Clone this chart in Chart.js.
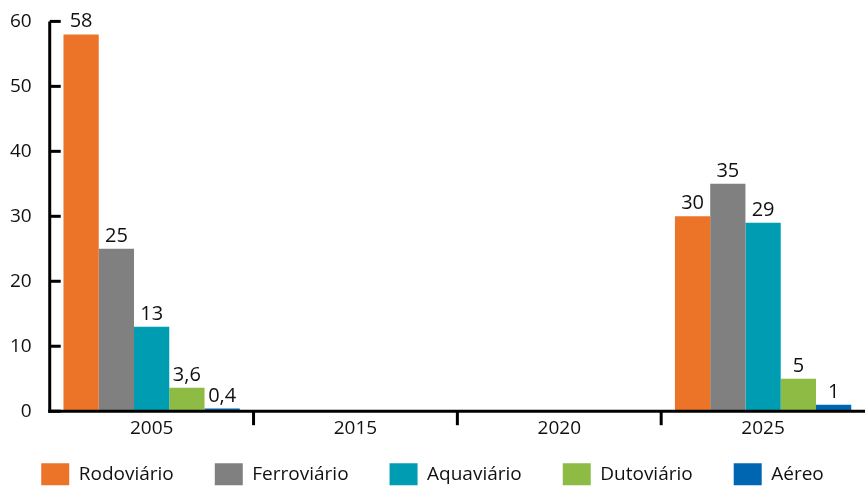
<!DOCTYPE html>
<html>
<head>
<meta charset="utf-8">
<script src="https://cdn.jsdelivr.net/npm/chart.js@4/dist/chart.umd.min.js"></script>
<style>
html,body{margin:0;padding:0;background:#fff;}
#wrap{width:865px;height:488px;}
</style>
</head>
<body>
<div id="wrap"><canvas id="c" width="865" height="488"></canvas></div>
<script>
const categories = ['2005', '2015', '2020', '2025'];
const rodoviario  = [58, null, null, 30];
const ferroviario = [25, null, null, 35];
const aquaviario  = [13, null, null, 29];
const dutoviario  = [3.6, null, null, 5];
const aereo       = [0.4, null, null, 1];
const seriesNames = ['Rodoviário', 'Ferroviário', 'Aquaviário', 'Dutoviário', 'Aéreo'];
const yTicks = [0, 10, 20, 30, 40, 50, 60];

const colors = ['#EC7429', '#808080', '#009DB2', '#8DBB44', '#0066B2'];
const FONT = '"Open Sans", sans-serif';
const TXT = '#111';

const axisPlugin = {
  id: 'axisTicks',
  afterLayout(chart) {
    if (chart.legend) chart.legend.top = chart.chartArea.bottom + 11;
  },
  afterDraw(chart) {
    const ctx = chart.ctx;
    const x = chart.scales.x, y = chart.scales.y;
    const area = chart.chartArea;
    ctx.save();
    ctx.strokeStyle = '#000';
    ctx.lineWidth = 3;
    ctx.beginPath();
    ctx.moveTo(area.left, y.getPixelForValue(60));
    ctx.lineTo(area.left, y.getPixelForValue(0) + 1.5);
    ctx.stroke();
    yTicks.forEach(v => {
      const py = y.getPixelForValue(v);
      ctx.beginPath();
      ctx.moveTo(area.left, py);
      ctx.lineTo(area.left + 11, py);
      ctx.stroke();
    });
    const py0 = y.getPixelForValue(0);
    ctx.beginPath();
    ctx.moveTo(area.left - 1.5, py0);
    ctx.lineTo(area.right, py0);
    ctx.stroke();
    for (let i = 1; i < categories.length; i++) {
      const px = (x.getPixelForValue(i - 1) + x.getPixelForValue(i)) / 2;
      ctx.beginPath();
      ctx.moveTo(px, py0);
      ctx.lineTo(px, py0 + 14);
      ctx.stroke();
    }
    ctx.restore();
  }
};

const labelPlugin = {
  id: 'valueLabels',
  afterDatasetsDraw(chart) {
    const ctx = chart.ctx;
    ctx.save();
    ctx.font = '20px ' + FONT;
    ctx.fillStyle = TXT;
    ctx.textAlign = 'center';
    ctx.textBaseline = 'alphabetic';
    chart.data.datasets.forEach((ds, di) => {
      const meta = chart.getDatasetMeta(di);
      meta.data.forEach((el, i) => {
        const v = ds.data[i];
        if (v === null || v === undefined) return;
        const txt = String(v).replace('.', ',');
        ctx.fillText(txt, el.x, el.y - 7);
      });
    });
    ctx.restore();
  }
};

const seriesData = [rodoviario, ferroviario, aquaviario, dutoviario, aereo];

new Chart(document.getElementById('c'), {
  type: 'bar',
  data: {
    labels: categories,
    datasets: seriesNames.map((n, i) => ({
      label: n,
      data: seriesData[i],
      backgroundColor: colors[i],
      borderWidth: 0,
      categoryPercentage: 0.865,
      barPercentage: 1.0
    }))
  },
  options: {
    responsive: false,
    animation: false,
    layout: { padding: { top: 16, right: 0, left: 0, bottom: 0 } },
    plugins: {
      legend: {
        position: 'bottom',
        maxHeight: 50,
        labels: {
          boxWidth: 28,
          boxHeight: 22,
          padding: 41,
          color: TXT,
          font: { family: FONT, size: 19 }
        }
      },
      tooltip: { enabled: false }
    },
    scales: {
      x: {
        grid: { display: false },
        border: { display: false },
        ticks: { color: TXT, font: { family: FONT, size: 19 }, padding: -2 }
      },
      y: {
        min: 0, max: 60,
        afterBuildTicks(axis) { axis.ticks = yTicks.map(v => ({ value: v })); },
        grid: { display: false },
        border: { display: false },
        ticks: { color: TXT, font: { family: FONT, size: 19 }, padding: 10 }
      }
    }
  },
  plugins: [axisPlugin, labelPlugin]
});
</script>
</body>
</html>
